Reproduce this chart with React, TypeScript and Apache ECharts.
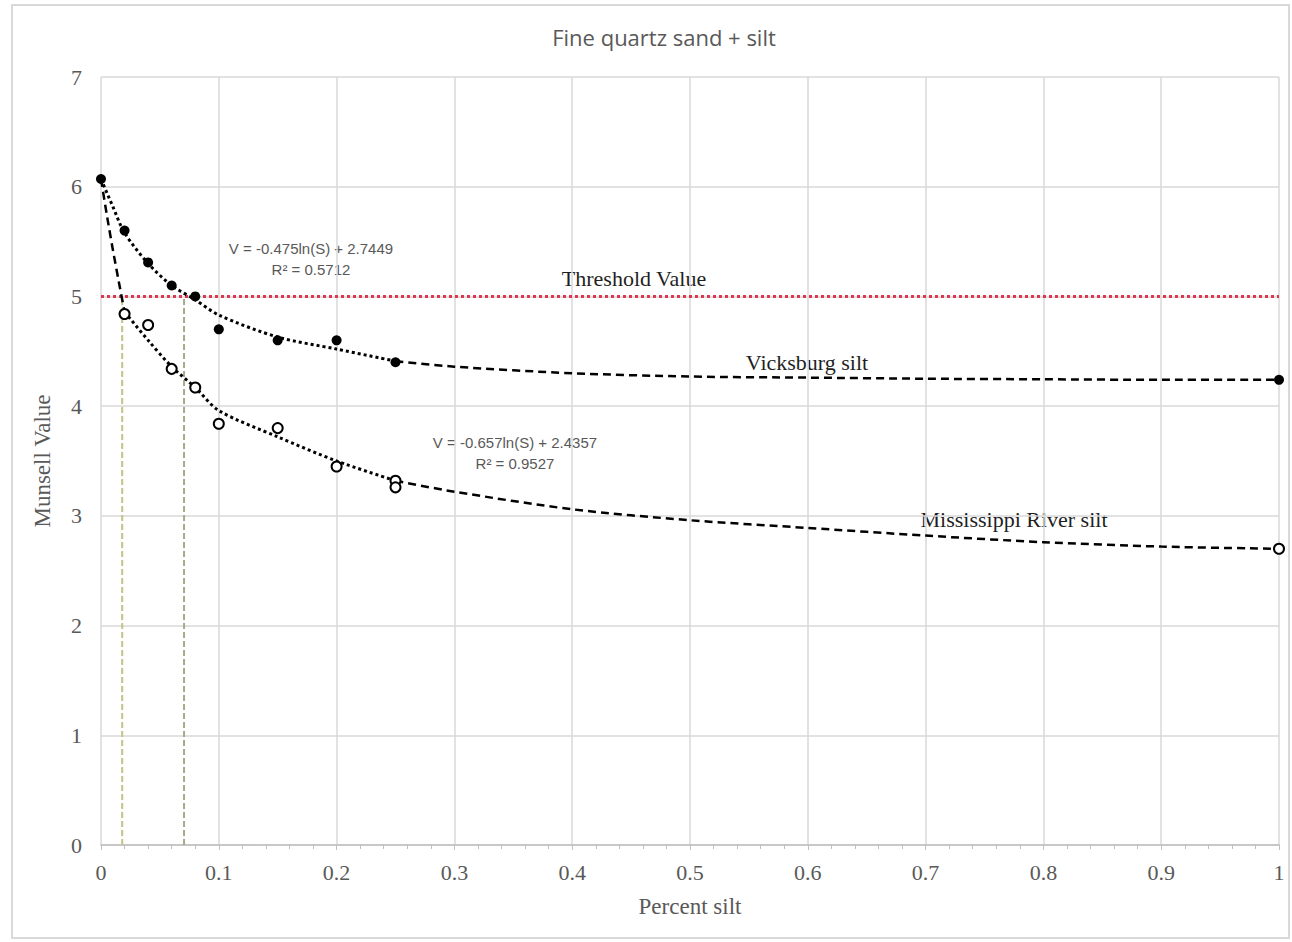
import React, { useEffect, useRef } from "react";
import * as echarts from "echarts";

// Measured points
const vicksX = [0, 0.02, 0.04, 0.06, 0.08, 0.1, 0.15, 0.2, 0.25, 1];
const vicksY = [6.07, 5.6, 5.31, 5.1, 5.0, 4.7, 4.6, 4.6, 4.4, 4.24];
const missX = [0.02, 0.04, 0.06, 0.08, 0.1, 0.15, 0.2, 0.25, 0.25, 1];
const missY = [4.84, 4.74, 4.34, 4.17, 3.84, 3.8, 3.45, 3.32, 3.26, 2.7];

// Trend curves
const vicksFitX = [0, 0.01, 0.02, 0.04, 0.06, 0.08, 0.1, 0.15, 0.2, 0.25];
const vicksFitY = [6.07, 5.82, 5.58, 5.3, 5.1, 4.97, 4.83, 4.63, 4.52, 4.41];
const vicksTailX = [0.25, 0.3, 0.4, 0.5, 0.6, 0.7, 0.8, 0.9, 1];
const vicksTailY = [4.41, 4.36, 4.3, 4.27, 4.26, 4.25, 4.245, 4.24, 4.24];
const missHeadX = [0, 0.005, 0.01, 0.015, 0.02];
const missHeadY = [6.07, 5.74, 5.43, 5.14, 4.86];
const missFitX = [0.02, 0.04, 0.06, 0.08, 0.1, 0.15, 0.2, 0.25];
const missFitY = [4.86, 4.6, 4.36, 4.17, 3.96, 3.72, 3.5, 3.32];
const missTailX = [0.25, 0.3, 0.4, 0.5, 0.6, 0.7, 0.8, 0.9, 1];
const missTailY = [3.32, 3.22, 3.06, 2.96, 2.89, 2.82, 2.76, 2.72, 2.7];

const thresholdValue = 5;
const guideXs = [0.018, 0.0705];

const xTicks = [0, 0.1, 0.2, 0.3, 0.4, 0.5, 0.6, 0.7, 0.8, 0.9, 1];
const yTicks = [0, 1, 2, 3, 4, 5, 6, 7];

const zip = (xs: number[], ys: number[]) => xs.map((x, i) => [x, ys[i]]);

const SERIF = "'Liberation Serif', 'DejaVu Serif', serif";
const SANS = "'Liberation Sans', 'Open Sans', sans-serif";
const TITLE_SANS = "'Open Sans', 'Liberation Sans', sans-serif";

export default function App() {
  const ref = useRef<HTMLDivElement>(null);
  useEffect(() => {
    document.body.style.margin = "0";
    const chart = echarts.init(ref.current!, undefined, { renderer: "svg" });
    const curve = (xs: number[], ys: number[], type: any, width: number) => ({
      type: "line",
      data: zip(xs, ys),
      smooth: 0.3,
      symbol: "none",
      silent: true,
      z: 3,
      lineStyle: { color: "#000", width, type },
    });
    const label = (text: string, x: number, y: number) => ({
      type: "text",
      x,
      y,
      style: {
        text,
        align: "center",
        verticalAlign: "middle",
        fontFamily: SERIF,
        fontSize: 22,
        fill: "#1f1f1f",
      },
    });
    const eq = (text: string, x: number, y: number) => ({
      type: "text",
      x,
      y,
      style: {
        text,
        align: "center",
        verticalAlign: "middle",
        fontFamily: SANS,
        fontSize: 15,
        lineHeight: 21,
        fill: "#595959",
      },
    });
    chart.setOption({
      animation: false,
      backgroundColor: "#fff",
      title: {
        text: "Fine quartz sand + silt",
        left: 659,
        top: 21,
        textAlign: "center",
        textStyle: { fontFamily: TITLE_SANS, fontSize: 22, fontWeight: "normal", color: "#595959" },
      },
      grid: { left: 101, right: 13, top: 77, bottom: 97, containLabel: false },
      xAxis: {
        type: "value",
        min: 0,
        max: 1,
        interval: 0.1,
        name: "Percent silt",
        nameLocation: "middle",
        nameGap: 50,
        nameTextStyle: { fontFamily: SERIF, fontSize: 23, color: "#595959" },
        axisLine: { show: true, lineStyle: { color: "#bfbfbf", width: 1.5 } },
        axisTick: { show: true, length: 5, inside: false, lineStyle: { color: "#bfbfbf" } },
        minorTick: { show: true, splitNumber: 5, length: 4, lineStyle: { color: "#bfbfbf" } },
        axisLabel: {
          fontFamily: SERIF,
          fontSize: 22,
          color: "#595959",
          margin: 16,
          formatter: (v: number) => {
            const t = xTicks.find((k) => Math.abs(k - v) < 1e-9);
            return t === undefined ? "" : String(t);
          },
        },
        splitLine: { show: true, lineStyle: { color: "#d9d9d9", width: 1.5 } },
      },
      yAxis: {
        type: "value",
        min: 0,
        max: 7,
        interval: 1,
        name: "Munsell Value",
        nameLocation: "middle",
        nameGap: 47,
        nameRotate: 90,
        nameTextStyle: { fontFamily: SERIF, fontSize: 23, color: "#595959" },
        axisLine: { show: false },
        axisTick: { show: false },
        axisLabel: {
          fontFamily: SERIF,
          fontSize: 22,
          color: "#595959",
          margin: 19,
          formatter: (v: number) => {
            const t = yTicks.find((k) => Math.abs(k - v) < 1e-9);
            return t === undefined ? "" : String(t);
          },
        },
        splitLine: { show: true, lineStyle: { color: "#d9d9d9", width: 1.5 } },
      },
      graphic: [
        {
          type: "rect",
          shape: { x: 12, y: 5, width: 1277, height: 933 },
          style: { fill: "none", stroke: "#d9d9d9", lineWidth: 2 },
          silent: true,
        },
        eq("V = -0.475ln(S) + 2.7449\nR² = 0.5712", 311, 259),
        eq("V = -0.657ln(S) + 2.4357\nR² = 0.9527", 515, 453),
        label("Threshold Value", 634, 278),
        label("Vicksburg silt", 807, 362),
        label("Mississippi River silt", 1014, 519),
      ],
      series: [
        ...guideXs.map((gx, i) => ({
          type: "line",
          data: [
            [gx, 0],
            [gx, thresholdValue],
          ],
          symbol: "none",
          silent: true,
          z: 2,
          lineStyle: { color: i === 0 ? "#c2c28a" : "#a8a88c", width: 2, type: [6, 3] },
        })),
        {
          type: "line",
          data: [
            [0, thresholdValue],
            [1, thresholdValue],
          ],
          symbol: "none",
          silent: true,
          z: 2,
          lineStyle: { color: "#d9394f", width: 3, type: [3, 3] },
        },
        curve(vicksFitX, vicksFitY, [3, 3], 3),
        curve(vicksTailX, vicksTailY, [8, 5], 2.5),
        curve(missHeadX, missHeadY, [8, 5], 2.5),
        curve(missFitX, missFitY, [3, 3], 3),
        curve(missTailX, missTailY, [8, 5], 2.5),
        {
          type: "scatter",
          data: zip(vicksX, vicksY),
          symbol: "circle",
          symbolSize: 10,
          z: 5,
          itemStyle: { color: "#000", opacity: 1 },
        },
        {
          type: "scatter",
          data: zip(missX, missY),
          symbol: "circle",
          symbolSize: 10,
          z: 5,
          itemStyle: { color: "#fff", borderColor: "#000", borderWidth: 2, opacity: 1 },
        },
      ],
    });
    return () => chart.dispose();
  }, []);
  return <div ref={ref} style={{ width: 1292, height: 942 }} />;
}
